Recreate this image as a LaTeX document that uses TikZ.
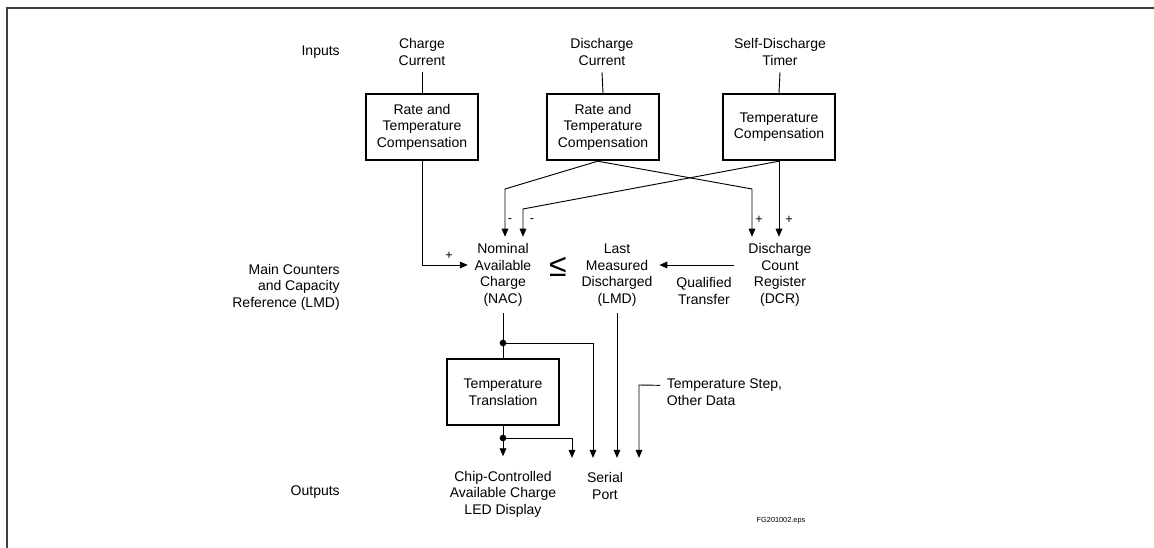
\documentclass[tikz,border=0pt]{standalone}
\usepackage{fontspec}
\setmainfont{Liberation Sans}
\usepackage{tikz}
\usetikzlibrary{arrows.meta}
\newcommand{\lbfont}{\fontsize{10.5}{12.4}\selectfont}
\newcommand{\sgnfont}{\fontsize{9.5}{9.5}\selectfont}
\tikzset{
  lbl/.style={align=center, font=\lbfont, inner sep=5pt},
  side/.style={align=right, font=\lbfont, inner sep=0pt, anchor=east},
  blk/.style={draw, line width=1.8pt, minimum width=84pt, minimum height=49.5pt, align=center, font=\lbfont},
  outlbl/.style={lbl, outer sep=6pt},
  wire/.style={line width=0.7pt},
  arr/.style={wire, -{Triangle[length=6pt,width=5pt]}},
  sgn/.style={font=\sgnfont, inner sep=1pt},
  junc/.style={circle, fill, inner sep=0pt, minimum size=5pt}
}
\begin{document}
\begin{tikzpicture}[x=0.75pt, y=-0.75pt]
\useasboundingbox (0,0) rectangle (1154,548);
%% frame
\draw[line width=1.5pt, black!75] (7,548) -- (7,8) -- (1154,8);
%% row labels
\node[side] (rin)  at (340,52)  {Inputs};
\node[side] (rmain) at (340,287) {Main Counters\\and Capacity\\Reference (LMD)};
\node[side] (rout) at (340,492) {Outputs};
%% inputs
\node[lbl] (chg)  at (422,52) {Charge\\Current};
\node[lbl] (dchg) at (602,52) {Discharge\\Current};
\node[lbl] (sdt)  at (780,52) {Self-Discharge\\Timer};
\node[blk] (cmp1) at (422,127) {Rate and\\Temperature\\Compensation};
\node[blk] (cmp2) at (603,127) {Rate and\\Temperature\\Compensation};
\node[blk] (cmp3) at (779,127) {Temperature\\Compensation};
\draw[wire] (chg.south) -- (cmp1.north);
\draw[wire] (dchg.south) -- (cmp2.north);
\draw[wire] (sdt.south) -- (cmp3.north);
%% counters
\node[lbl] (nac) at (503,275) {Nominal\\Available\\Charge\\(NAC)};
\node[lbl] (lmd) at (617,275) {Last\\Measured\\Discharged\\(LMD)};
\node[lbl] (dcr) at (780,275) {Discharge\\Count\\Register\\(DCR)};
\node[lbl] (qt)  at (704,291) {Qualified\\Transfer};
\node[inner sep=0pt, font=\fontsize{24}{24}\selectfont] (leq) at (558,267) {≤};
\coordinate (c2o) at ([xshift=-4pt]cmp2.south);
\coordinate (k1) at (505,189);
\coordinate (k2) at (523,209);
\coordinate (k3) at (752,189);
\draw[arr] (cmp1.south) |- ([yshift=7.5pt]nac.west);
\draw[arr] (c2o) -- (k1) -- (k1 |- nac.north);
\draw[arr] (cmp3.south) -- (k2) -- (k2 |- nac.north);
\draw[arr] (c2o) -- (k3) -- (k3 |- dcr.north);
\draw[arr] (cmp3.south) -- (cmp3.south |- dcr.north);
\draw[arr] ([yshift=7.5pt, xshift=-6pt]dcr.west) -- ([yshift=7.5pt]lmd.east);
% signs
\node[sgn] (p1) at (449,256) {+};
\node[sgn] (m1) at (510,221) {-};
\node[sgn] (m2) at (532,221) {-};
\node[sgn] (p2) at (759,220) {+};
\node[sgn] (p3) at (789,220) {+};
%% outputs
\node[blk] (tt) at (503,392) {Temperature\\Translation};
\node[outlbl] (led)  at (503,494) {Chip-Controlled\\Available Charge\\LED Display};
\node[outlbl] (port) at (605,486) {Serial\\Port};
\node[lbl, align=left, anchor=west] (tsd) at (660,392) {Temperature Step,\\Other Data};
\node[font=\fontsize{5.5}{6}\selectfont, inner sep=0pt] (fg) at (781,521) {FG201002.eps};
\coordinate (d1) at (503,343);
\coordinate (d2) at (503,438);
\coordinate (k4) at (593,343);
\coordinate (k5) at (572,438);
\coordinate (k6) at (639,385);
\draw[wire] (nac.south) -- (tt.north);
\draw[arr] (tt.south) -- (led.north);
\draw[arr] (d1) -- (k4) -- (k4 |- port.north);
\draw[arr] (d2) -- (k5) -- (k5 |- port.north);
\draw[arr] (lmd.south) -- (lmd.south |- port.north);
\draw[arr] ([yshift=5pt]tsd.west) -- (k6) -- (k6 |- port.north);
\node[junc] at (d1) {};
\node[junc] at (d2) {};
\end{tikzpicture}
\end{document}
